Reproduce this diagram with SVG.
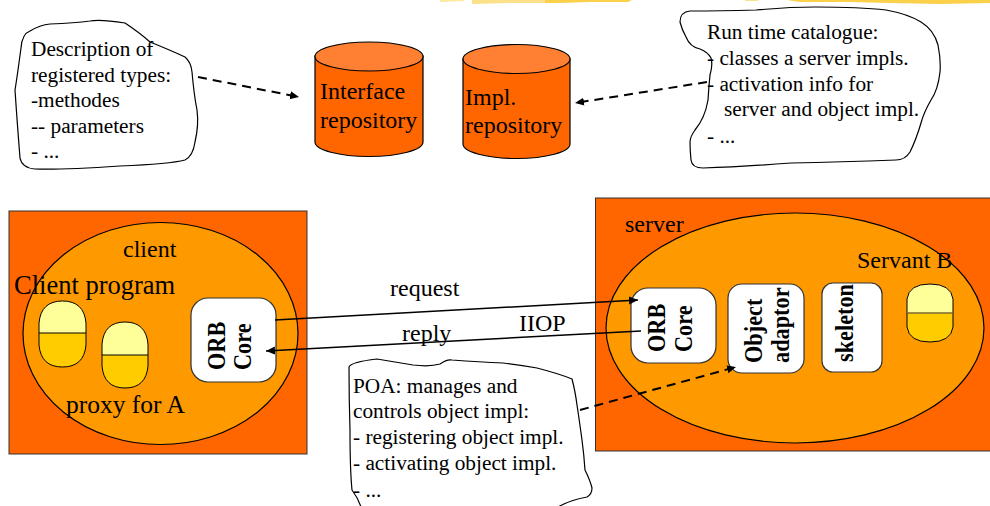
<svg xmlns="http://www.w3.org/2000/svg" width="990" height="506" viewBox="0 0 990 506">
<style>
text{font-family:"Liberation Serif","Times New Roman",serif;fill:#000}
.s{font-size:21.3px}
.m{font-size:24px}
.b{font-size:22.300px;font-weight:bold}
.cloud{fill:#fff;stroke:#000;stroke-width:1.2}
.box{fill:#ff6600;stroke:#333;stroke-width:1}
.oval{fill:#ff9900;stroke:#000;stroke-width:1.2}
.rr{fill:#fff;stroke:#333;stroke-width:1.2}
.body{fill:#ff6600;stroke:#000;stroke-width:1.2}
.lid{fill:#ff8033;stroke:#000;stroke-width:1.2}
.hi{fill:#ffff99}
.lo{fill:#ffcc00}
.ol{fill:none;stroke:#000;stroke-width:1}
.solid{fill:none;stroke:#000;stroke-width:1.5}
.dash{fill:none;stroke:#000;stroke-width:2;stroke-dasharray:9 6}
</style>
<defs>
<marker id="a" markerUnits="userSpaceOnUse" markerWidth="10" markerHeight="10" refX="9" refY="4" orient="auto"><path d="M0 0L9 4L0 8Z" fill="#000"/></marker>
</defs>
<g id="top-strip">
<path d="M440 0H464V1L440 2Z" fill="#fde9a0"/>
<path d="M472 0H545V3L510 3L472 4Z" fill="#fde08a"/>
<path d="M545 0H632L628 2L590 2L560 3L545 3Z" fill="#fbd04a"/>
<path d="M745 0H758V1L745 1Z" fill="#fde08a"/>
<path d="M787 0H990V3L940 4L890 3L850 2L800 2Z" fill="#fbd04a"/>
</g>
<g id="note-types">
<path class="cloud" d="M21 48Q22 34 30 31Q40 25 50 24Q75 23 90 21Q100 19 125 23Q140 33 150 42Q170 50 185 57Q191 62 192 72Q194 95 197 110Q199 125 195 142Q193 156 185 160Q170 164 120 166Q60 170 35 169Q22 168 20 158Q17 120 15 90Q17 78 21 48Z"/>
<text class="s" x="31" y="56">Description of</text>
<text class="s" x="31" y="82">registered types:</text>
<text class="s" x="31" y="107">-methodes</text>
<text class="s" x="31" y="133">-- parameters</text>
<text class="s" x="31" y="158">- ...</text>
</g>
<g id="interface-repository">
<path class="body" d="M315 56V142A54 14.5 0 0 0 423 142V56Z"/>
<ellipse class="lid" cx="369" cy="56.500" rx="54" ry="14.500"/>
<text class="m" x="320" y="99">Interface</text>
<text class="m" x="320" y="128">repository</text>
</g>
<g id="impl-repository">
<path class="body" d="M463 59V144A53.500 14.500 0 0 0 570 144V59Z"/>
<ellipse class="lid" cx="516.500" cy="59" rx="53.500" ry="14.500"/>
<text class="m" x="465" y="105">Impl.</text>
<text class="m" x="465" y="133">repository</text>
</g>
<g id="note-catalogue">
<path class="cloud" d="M680 22Q680 12 690 11Q720 11 756 10Q790 7 815 7Q860 7 886 10Q908 14 921 22Q934 30 938 45Q941 60 940 72Q938 90 931 100Q924 112 921 123Q916 140 910 152Q905 160 896 160Q840 162 791 163Q740 167 703 168Q692 168 691 160Q690 150 690 142Q690 137 695 130Q705 118 708 100Q709 85 710 75Q713 65 711 58Q708 52 700 49Q690 47 686 37Q682 30 680 22Z"/>
<text class="s" x="707" y="39">Run time catalogue:</text>
<text class="s" x="707" y="65">- classes a server impls.</text>
<text class="s" x="707" y="91">- activation info for</text>
<text class="s" x="724" y="116">server and object impl.</text>
<text class="s" x="707" y="143">- ...</text>
</g>
<g id="client">
<rect class="box" x="9" y="211" width="298" height="243"/>
<ellipse class="oval" cx="160.500" cy="333.500" rx="137.500" ry="111"/>
<text class="m" x="123" y="257">client</text>
<text x="14" y="294" font-size="26.500">Client program</text>
<text x="66" y="413" font-size="25.500">proxy for A</text>
</g>
<g id="client-object-1">
<path class="lo" d="M39 333H86V345Q84 367 62.500 367Q41 367 39 345Z"/>
<path class="hi" d="M39 333V323Q41 301 62.500 301Q84 301 86 323V333Z"/>
<path class="ol" d="M39 323Q41 301 62.500 301Q84 301 86 323V345Q84 367 62.500 367Q41 367 39 345ZM39 333H86"/>
</g>
<g id="client-object-2">
<path class="lo" d="M102 355H148V366Q146 388 125 388Q104 388 102 366Z"/>
<path class="hi" d="M102 355V344Q104 322 125 322Q146 322 148 344V355Z"/>
<path class="ol" d="M102 344Q104 322 125 322Q146 322 148 344V366Q146 388 125 388Q104 388 102 366ZM102 355H148"/>
</g>
<g id="client-orb-core">
<rect class="rr" x="191" y="298" width="85" height="84" rx="17"/>
<text class="b" transform="translate(225 370) rotate(-90) scale(1 1.120)">ORB</text>
<text class="b" transform="translate(251 370) rotate(-90) scale(1 1.120)">Core</text>
</g>
<g id="server">
<rect class="box" x="595.500" y="198" width="396" height="253"/>
<ellipse class="oval" cx="795" cy="328" rx="189" ry="115"/>
<text class="m" x="625" y="232">server</text>
<text class="m" x="857" y="268">Servant B</text>
</g>
<g id="server-orb-core">
<rect class="rr" x="631" y="288" width="85" height="75" rx="17"/>
<text class="b" transform="translate(665 352) rotate(-90) scale(1 1.120)">ORB</text>
<text class="b" transform="translate(692 352) rotate(-90) scale(1 1.120)">Core</text>
</g>
<g id="object-adaptor">
<rect class="rr" x="728" y="284" width="76" height="89" rx="14"/>
<text class="b" transform="translate(762 363) rotate(-90) scale(1 1.120)">Object</text>
<text class="b" transform="translate(789 363) rotate(-90) scale(1 1.120)">adaptor</text>
</g>
<g id="skeleton">
<rect class="rr" x="822" y="283" width="60" height="89" rx="11"/>
<text class="b" transform="translate(853 362) rotate(-90) scale(1 1.120)">skeleton</text>
</g>
<g id="servant-b">
<path class="lo" d="M907 313H953V327Q951 342 930 342Q909 342 907 327Z"/>
<path class="hi" d="M907 313V299Q909 284 930 284Q951 284 953 299V313Z"/>
<path class="ol" d="M907 299Q909 284 930 284Q951 284 953 299V327Q951 342 930 342Q909 342 907 327Z"/>
<path d="M907 313H953" stroke="#7a6a30" stroke-width="1.500" fill="none"/>
</g>
<g id="note-poa">
<path class="cloud" d="M349 367Q351 362 377 359Q395 362 413 365Q430 367 440 364Q447 359 452 360Q480 362 503 363Q520 365 537 368Q560 374 572 379Q575 390 577 405Q580 425 582 440Q584 455 585 470Q590 480 592 488Q592 494 587 497Q570 500 558 507L361 507Q358 498 352 490Q350 470 350 430Q349 400 349 367Z"/>
<text class="s" x="353" y="393">POA: manages and</text>
<text class="s" x="353" y="418">controls object impl:</text>
<text class="s" x="353" y="444">- registering object impl.</text>
<text class="s" x="353" y="470">- activating object impl.</text>
<text class="s" x="353" y="497">- ...</text>
</g>
<g id="connectors">
<path class="dash" d="M198 77L299 97" marker-end="url(#a)"/>
<path class="dash" d="M707 82L575 103" marker-end="url(#a)"/>
<path class="solid" d="M275 320L638 300" marker-end="url(#a)"/>
<path class="solid" d="M641 331L266 351" marker-end="url(#a)"/>
<path class="dash" d="M580 410L736 367" marker-end="url(#a)"/>
</g>
<g id="connector-labels">
<text class="m" x="390" y="296">request</text>
<text class="m" x="402" y="341">reply</text>
<text class="m" x="519" y="331">IIOP</text>
</g>
</svg>
